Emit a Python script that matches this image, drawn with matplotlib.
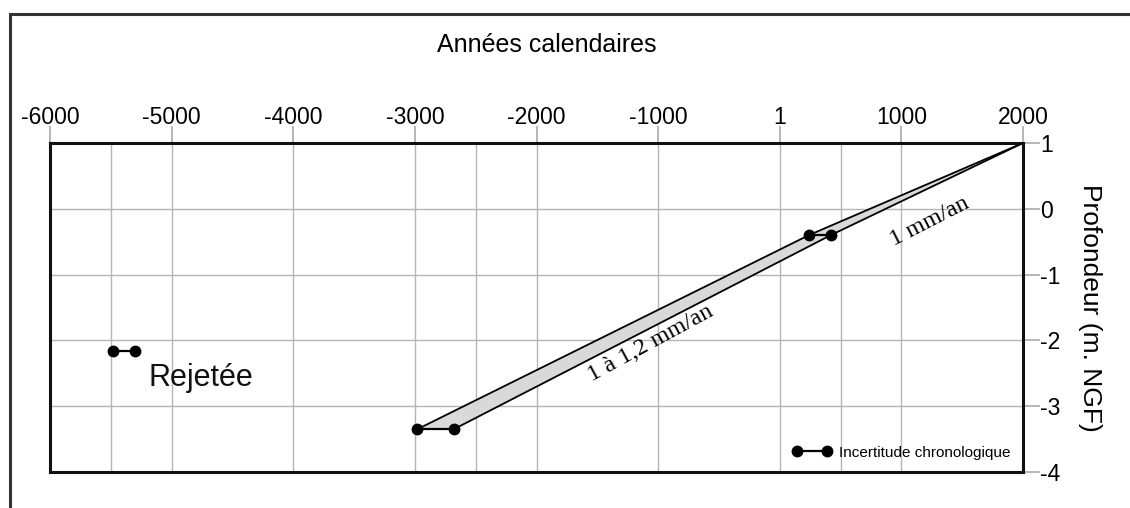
import numpy as np
import matplotlib.pyplot as plt
import matplotlib as mpl
from matplotlib.lines import Line2D
from matplotlib.patches import Rectangle

mpl.rcParams['font.family'] = ['Liberation Sans', 'DejaVu Sans']
mpl.rcParams['axes.unicode_minus'] = False

# ages (calendar years) and depths (m NGF) of the dated samples
top_age = 2000
top_depth = 1
mid_ages = [240, 420]
mid_depth = -0.4
low_ages = [-2980, -2680]
low_depth = -3.35
rej_ages = [-5485, -5305]
rej_depth = -2.16

xticks = [-6000, -5000, -4000, -3000, -2000, -1000, 0, 1000, 2000]
xticklabels = ['-6000', '-5000', '-4000', '-3000', '-2000', '-1000', '1', '1000', '2000']
xminor = [-5500, -2500, 500]
yticks = [1, 0, -1, -2, -3, -4]

fig = plt.figure(figsize=(11.3, 5.08), dpi=100)
ax = fig.add_axes([50/1130, 1-472/508, 973/1130, 329/508])

# outer frame (only top and left visible)
fig.patches.append(Rectangle((10/1130, -0.2), 1.2, 1.2 - 14/508, transform=fig.transFigure,
                             fill=False, ec='#333333', lw=2.2))

# band between both age bounds
poly_x = [top_age, mid_ages[0], low_ages[0], low_ages[1], mid_ages[1]]
poly_y = [top_depth, mid_depth, low_depth, low_depth, mid_depth]
ax.fill(poly_x, poly_y, fc='#d9d9d9', ec='none', zorder=3)
ax.plot([top_age, mid_ages[0], low_ages[0]], [top_depth, mid_depth, low_depth], color='k', lw=1.3, zorder=4)
ax.plot([top_age, mid_ages[1], low_ages[1]], [top_depth, mid_depth, low_depth], color='k', lw=1.3, zorder=4)

# chronological uncertainty of each sample
for ages, d in [(mid_ages, mid_depth), (low_ages, low_depth), (rej_ages, rej_depth)]:
    ax.plot(ages, [d, d], 'o-', color='k', lw=1.6, ms=7.5, zorder=5)

ax.text(1230, -0.2, '1 mm/an', family='Liberation Serif', fontsize=17.5,
        rotation=27, ha='center', va='center', zorder=6)
ax.text(-1060, -2.05, '1 à 1,2 mm/an', family='Liberation Serif', fontsize=17.5,
        rotation=28.5, ha='center', va='center', zorder=6)
ax.text(-5190, -2.57, 'Rejetée', fontsize=22, ha='left', va='center', color='#111111')

leg = ax.legend(handles=[Line2D([], [], marker='o', color='k', lw=1.6, ms=7.5)],
                labels=['Incertitude chronologique'], loc='lower right', frameon=False,
                numpoints=2, handlelength=2.6, fontsize=11, handletextpad=0.5,
                borderaxespad=0.4)

ax.set_xlim(-6000, 2000)
ax.set_ylim(-4, 1)
ax.set_xticks(xticks)
ax.set_xticklabels(xticklabels)
ax.set_xticks(xminor, minor=True)
ax.set_yticks(yticks)
ax.xaxis.tick_top()
ax.yaxis.tick_right()
ax.tick_params(axis='both', which='both', length=12, width=1.2, color='#aaaaaa',
               labelsize=16.5)
ax.tick_params(axis='x', which='major', pad=-2)
ax.tick_params(axis='y', which='major', pad=0.5)
ax.tick_params(axis='x', which='minor', length=0)
ax.grid(True, which='both', color='#b5b5b5', lw=1.0)
ax.set_axisbelow(True)
for s in ax.spines.values():
    s.set_linewidth(2.2)
    s.set_color('#111111')

# corner ticks are drawn black, like the frame
xt = ax.xaxis.get_major_ticks()
xt[0].tick2line.set_color('#111111')
xt[-1].tick2line.set_color('#111111')
yt = ax.yaxis.get_major_ticks()
yt[0].tick2line.set_color('#111111')

ax.yaxis.set_label_position('right')
ax.set_ylabel('Profondeur (m. NGF)', rotation=-90, fontsize=19, labelpad=30)
fig.text(547/1130, 1-45/508, 'Années calendaires', fontsize=18, ha='center', va='center')

plt.savefig('out.png', dpi=100)
